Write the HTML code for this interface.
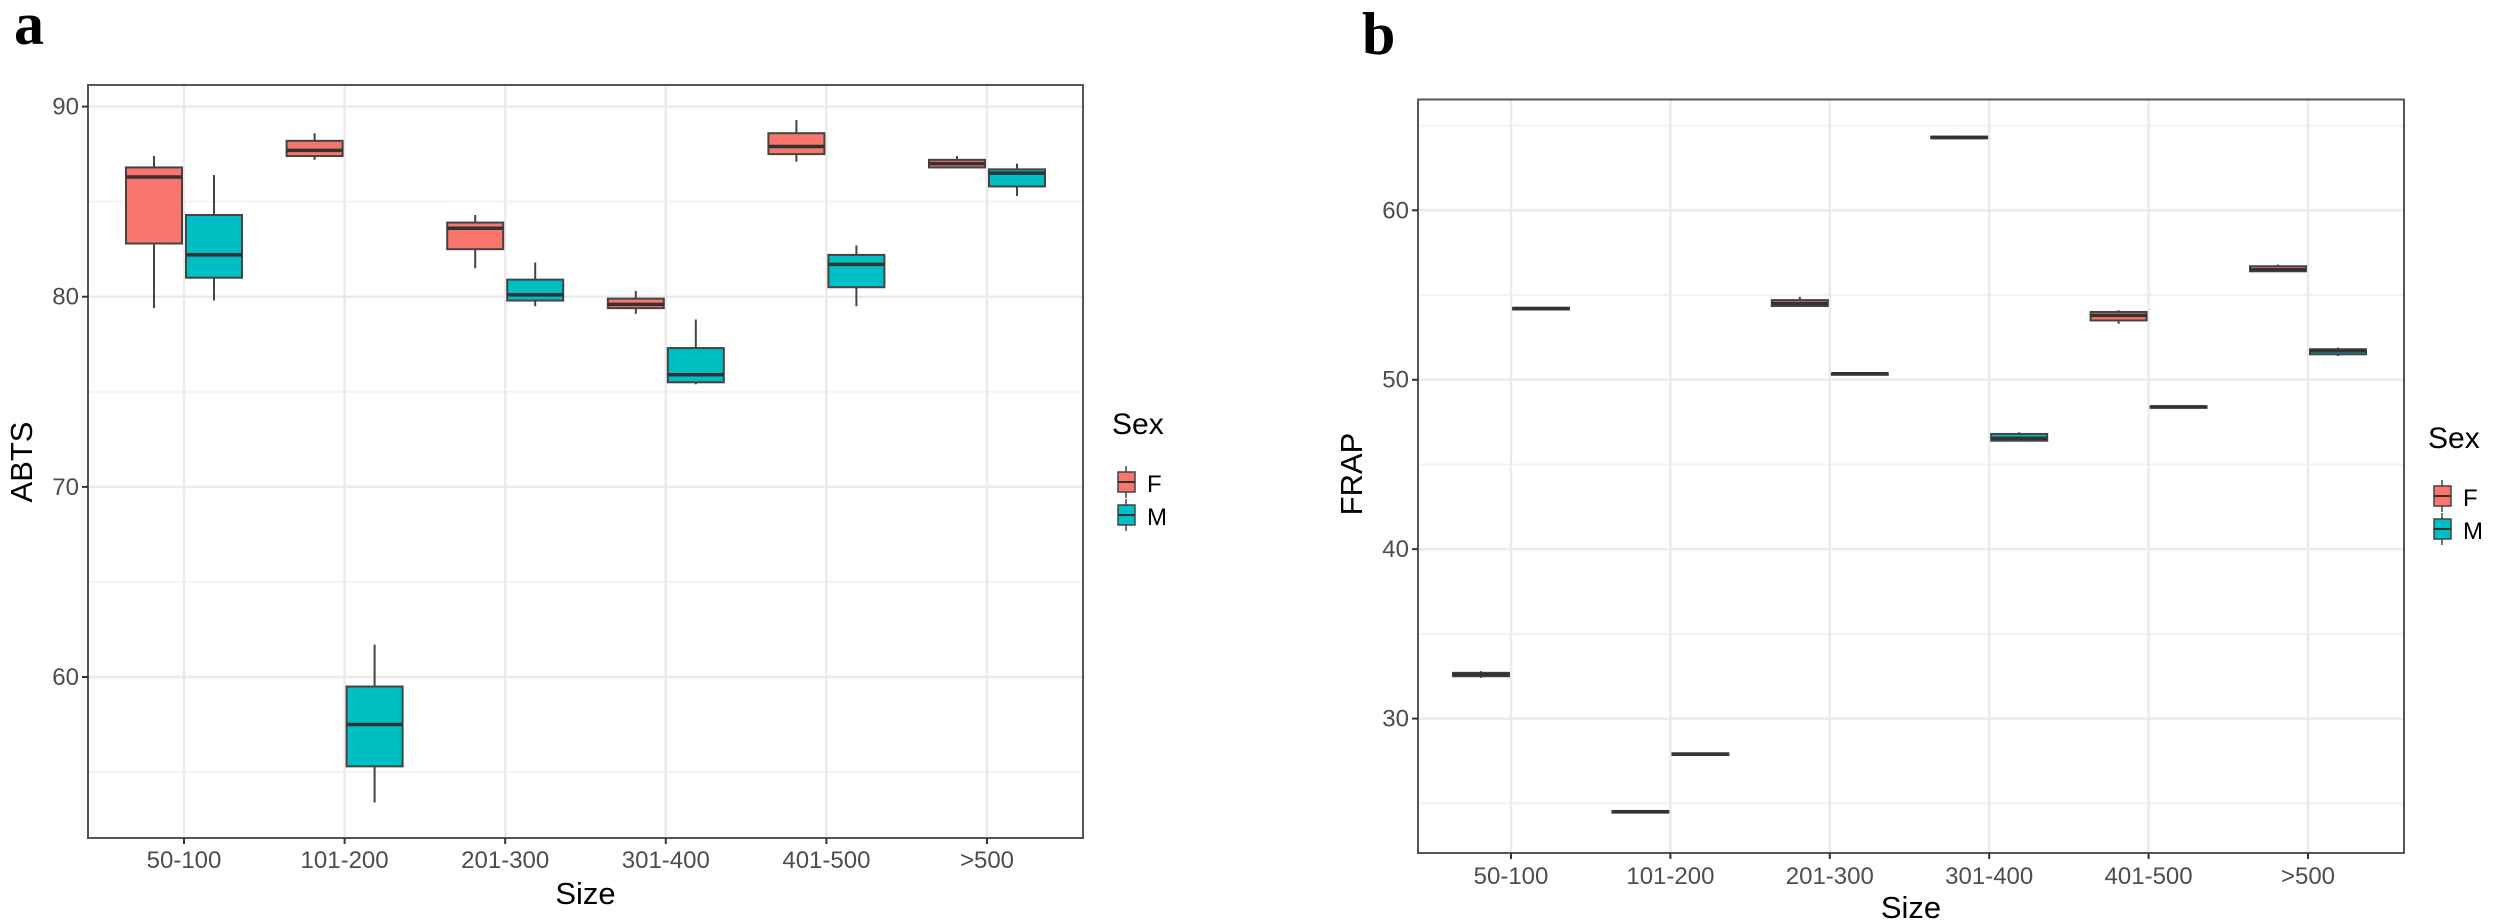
<!DOCTYPE html>
<html><head><meta charset="utf-8"><style>
html,body{margin:0;padding:0;background:#fff;}
svg{display:block;font-family:"Liberation Sans",sans-serif;}
</style></head><body>
<svg id="chart" width="2500" height="924" viewBox="0 0 2500 924"></svg>
<script>
const categories = ["50-100","101-200","201-300","301-400","401-500",">500"];
// panel a (ABTS): [whiskerLow, q1, median, q3, whiskerHigh]
const abtsF = [[79.4,82.8,86.3,86.8,87.4],[87.2,87.4,87.7,88.2,88.6],[81.5,82.5,83.6,83.9,84.3],[79.1,79.4,79.6,79.9,80.3],[87.1,87.5,87.9,88.6,89.3],[86.8,86.8,87.0,87.2,87.4]];
const abtsM = [[79.8,81.0,82.2,84.3,86.4],[53.4,55.3,57.5,59.5,61.7],[79.5,79.8,80.1,80.9,81.8],[75.4,75.5,75.9,77.3,78.8],[79.5,80.5,81.7,82.2,82.7],[85.3,85.8,86.5,86.7,87.0]];
const abtsTicks = [60,70,80,90];
const abtsMinor = [55,65,75,85];
// panel b (FRAP)
const frapF = [[32.4,32.5,32.6,32.7,32.8],[24.4,24.45,24.5,24.55,24.6],[54.3,54.35,54.5,54.7,54.9],[64.2,64.25,64.3,64.35,64.4],[53.3,53.5,53.8,54.0,54.1],[56.4,56.4,56.5,56.7,56.8]];
const frapM = [[54.1,54.15,54.2,54.25,54.3],[27.8,27.85,27.9,27.95,28.0],[50.3,50.32,50.35,50.38,50.4],[46.4,46.4,46.55,46.8,46.9],[48.35,48.37,48.4,48.43,48.45],[51.4,51.5,51.7,51.8,51.9]];
const frapTicks = [30,40,50,60];
const frapMinor = [25,35,45,55,65];

const NS="http://www.w3.org/2000/svg";
const svg=document.getElementById('chart');
function el(tag,attrs,parent,text){const e=document.createElementNS(NS,tag);for(const k in attrs)e.setAttribute(k,attrs[k]);if(text!==undefined)e.textContent=text;(parent||svg).appendChild(e);return e;}

function panel(cfg){
  const g=el('g',{});
  
  
  const y=v=>cfg.y0px+(v-cfg.y0)*(cfg.y1px-cfg.y0px)/(cfg.y1-cfg.y0);
  const x=i=>cfg.xc0+i*cfg.dx;
  // minor grid
  cfg.minor.forEach(v=>{const l=el('line',{x1:cfg.L,x2:cfg.R,y1:y(v),y2:y(v),stroke:'#f2f2f2','stroke-width':2},g);
    });
  cfg.ticks.forEach(v=>{const l=el('line',{x1:cfg.L,x2:cfg.R,y1:y(v),y2:y(v),stroke:'#ebebeb','stroke-width':2.5},g);
    });
  categories.forEach((c,i)=>{const l=el('line',{x1:x(i),x2:x(i),y1:cfg.T,y2:cfg.B,stroke:'#ebebeb','stroke-width':2.5},g);
    });
  // boxes
  [[cfg.F,'#F8766D',-30,'f'],[cfg.M,'#00BFC4',30,'m']].forEach(([data,col,off,s])=>{
    data.forEach((d,i)=>{
      const cx=x(i)+off, bg=el('g',{},g);
      
      
      el('line',{x1:cx,x2:cx,y1:y(d[0]),y2:y(d[4]),stroke:'#444','stroke-width':2},bg);
      el('rect',{x:cx-28,y:y(d[3]),width:56,height:Math.max(y(d[1])-y(d[3]),1.5),fill:col,stroke:'#444','stroke-width':2},bg);
      el('line',{x1:cx-28,x2:cx+28,y1:y(d[2]),y2:y(d[2]),stroke:'#333','stroke-width':3.5},bg);
    });
  });
  // border
  const b=el('rect',{x:cfg.L,y:cfg.T,width:cfg.R-cfg.L,height:cfg.B-cfg.T,fill:'none',stroke:'#555','stroke-width':2},g);
  
  // y ticks
  cfg.ticks.forEach(v=>{el('line',{x1:cfg.L-6,x2:cfg.L,y1:y(v),y2:y(v),stroke:'#333','stroke-width':2},g);
    const t=el('text',{x:cfg.L-9,y:y(v)+8,'text-anchor':'end','font-size':24,fill:'#4d4d4d'},g,String(v));
    });
  categories.forEach((c,i)=>{el('line',{x1:x(i),x2:x(i),y1:cfg.B,y2:cfg.B+6,stroke:'#333','stroke-width':2},g);
    const t=el('text',{x:x(i),y:cfg.tickY,'text-anchor':'middle','font-size':24,fill:'#4d4d4d'},g,c);
    });
  const xt=el('text',{x:(cfg.L+cfg.R)/2,y:cfg.titleY,'text-anchor':'middle','font-size':31,fill:'#000'},g,'Size');
  
  const yt=el('text',{x:0,y:0,'text-anchor':'middle','font-size':31,fill:'#000',transform:`translate(${cfg.ylx},${cfg.yly}) rotate(-90)`},g,cfg.ylabel);
  
  const pl=el('text',{x:cfg.lblx,y:cfg.lbly,'font-size':60,'font-weight':'bold','font-family':'Liberation Serif, serif',fill:'#000'},g,cfg.lbl);
  
  // legend
  const lg=el('g',{},g);
  
  el('text',{x:cfg.legx,y:cfg.legy,'font-size':30,fill:'#000'},lg,'Sex');
  [['F','#F8766D',cfg.legy+36],['M','#00BFC4',cfg.legy+69]].forEach(([n,c,ky])=>{
    const e=el('g',{},lg);
    
    
    el('line',{x1:cfg.legx+14,x2:cfg.legx+14,y1:ky-4,y2:ky+28,stroke:'#444','stroke-width':1.5},e);
    el('rect',{x:cfg.legx+6,y:ky+2,width:17,height:20,fill:c,stroke:'#444','stroke-width':1.5},e);
    el('line',{x1:cfg.legx+6,x2:cfg.legx+23,y1:ky+12,y2:ky+12,stroke:'#333','stroke-width':2},e);
    el('text',{x:cfg.legx+35,y:ky+22,'font-size':24,fill:'#000'},e,n);
  });
}
panel({name:'panel-a-abts',L:88,R:1083,T:85,B:838,y0:90,y0px:106.6,y1:60,y1px:677,xc0:184,dx:160.6,
  ticks:abtsTicks,minor:abtsMinor,F:abtsF,M:abtsM,tickY:868,titleY:904,ylx:32,yly:462,ylabel:'ABTS',
  lbl:'a',lblx:14,lbly:44,legx:1112,legy:434});
panel({name:'panel-b-frap',L:1418,R:2404,T:99.5,B:853,y0:60,y0px:210.3,y1:30,y1px:718.6,xc0:1511,dx:159.4,
  ticks:frapTicks,minor:frapMinor,F:frapF,M:frapM,tickY:884,titleY:918,ylx:1362,yly:474,ylabel:'FRAP',
  lbl:'b',lblx:1362,lbly:54,legx:2428,legy:448});
</script>
</body></html>
